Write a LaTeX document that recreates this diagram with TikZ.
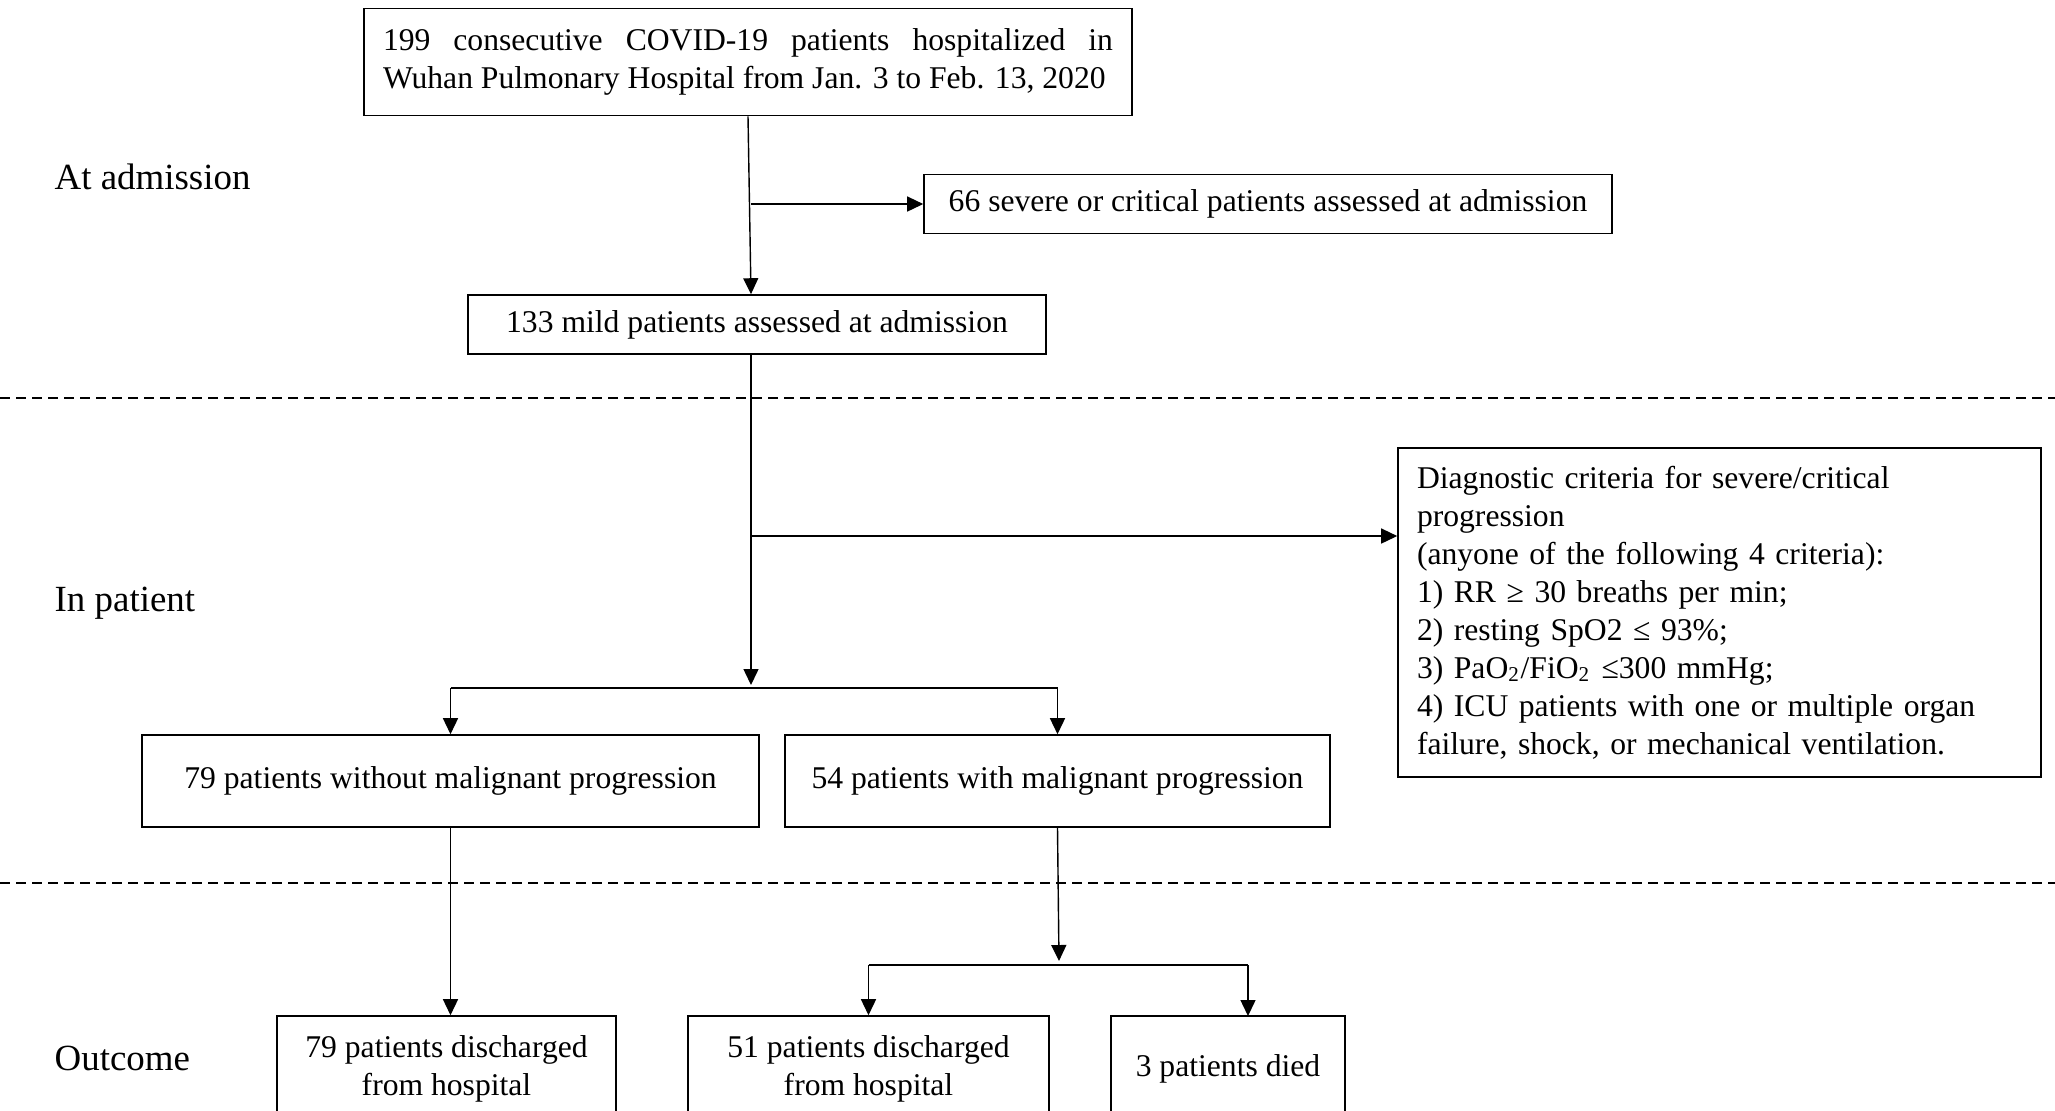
\documentclass[tikz,border=0pt]{standalone}
\usepackage{fontspec}
\setmainfont{Liberation Serif}
\usetikzlibrary{positioning,arrows.meta}

\begin{document}
\begin{tikzpicture}[
    box/.style={draw,line width=0.45pt,inner xsep=0.19cm,inner ysep=0.1cm,font=\fontsize{9}{10.8}\selectfont,align=center},
    stage/.style={anchor=west,inner sep=0pt,font=\fontsize{10.5}{12}\selectfont},
    link/.style={line width=0.4pt},
    arr/.style={link,-{Triangle[length=0.16cm,width=0.15cm]}},
    sep/.style={line width=0.45pt,dash pattern=on 0.1cm off 0.06cm}]
        \useasboundingbox (0,0) rectangle (20.55,-11.10);

        % stage labels
        \node[stage] (adm) at (0.54,-1.77) {At admission};
        \node[stage] (inp) at (0.54,-6.03) {In patient};
        \node[stage] (out) at (0.54,-10.58) {Outcome};

        \coordinate (l1) at (0,-3.98);
        \coordinate (r1) at (20.55,-3.98);
        \coordinate (l2) at (0,-8.83);
        \coordinate (r2) at (20.55,-8.83);
        \draw[sep] (l1) -- (r1);
        \draw[sep] (l2) -- (r2);

        % boxes
        \node[box,align=justify,text width=7.3cm,minimum height=1.07cm] (all) at (7.48,-0.62)
            {199 consecutive COVID-19 patients hospitalized in\linebreak Wuhan Pulmonary Hospital from Jan. 3 to Feb. 13, 2020};
        \node[box,minimum width=6.88cm,minimum height=0.59cm] (severe) at (12.68,-2.04) {66 severe or critical patients assessed at admission};
        \node[box,minimum width=5.78cm,minimum height=0.59cm] (mild) at (7.57,-3.245) {133 mild patients assessed at admission};
        \node[box,align=left,text width=6.05cm,minimum height=3.29cm] (crit) at (17.195,-6.125)
            {Diagnostic criteria for severe/critical\\
             progression\\
             (anyone of the following 4 criteria):\\
             1) RR ≥ 30 breaths per min;\\
             2) resting SpO2 ≤ 93\%;\\
             3) PaO\textsubscript{2}/FiO\textsubscript{2} ≤300 mmHg;\\
             4) ICU patients with one or multiple organ\\
             failure, shock, or mechanical ventilation.};
        \node[box,minimum width=6.17cm,minimum height=0.92cm] (without) at (4.505,-7.81) {79 patients without malignant progression};
        \node[box,minimum width=5.45cm,minimum height=0.92cm] (with) at (10.575,-7.81) {54 patients with malignant progression};
        \node[box,minimum width=3.39cm,minimum height=1.05cm] (dis1) at (4.465,-10.685) {79 patients discharged\\from hospital};
        \node[box,minimum width=3.61cm,minimum height=1.05cm] (dis2) at (8.685,-10.685) {51 patients discharged\\from hospital};
        \node[box,minimum width=2.34cm,minimum height=1.05cm] (died) at (12.28,-10.685) {3 patients died};

        % connectors
        \coordinate (b1) at (7.51,-2.04);
        \coordinate (b2) at (7.51,-5.36);
        \coordinate (s1) at (7.51,-6.88);
        \coordinate (s2) at (10.59,-9.65);
        \coordinate (d3) at (12.48,-10.16);

        \draw[arr] (all.south) -- (mild.north -| b1);
        \draw[arr] (b1) -- (severe.west);
        \draw[arr] (mild.south -| s1) -- ([yshift=0.03cm]s1);
        \draw[arr] (b2) -- (b2 -| crit.west);
        \draw[link] (without.north |- s1) -- (s1 -| with.north);
        \draw[arr] (without.north |- s1) -- (without.north);
        \draw[arr] (s1 -| with.north) -- (with.north);
        \draw[arr] (with.south) -- (s2 |- 0,-9.61);
        \draw[link] (dis2.north |- s2) -- (s2 -| d3);
        \draw[arr] (dis2.north |- s2) -- (dis2.north);
        \draw[arr] (s2 -| d3) -- (d3);
        \draw[arr] (without.south) -- (without.south |- dis1.north);
    \end{tikzpicture}
\end{document}
